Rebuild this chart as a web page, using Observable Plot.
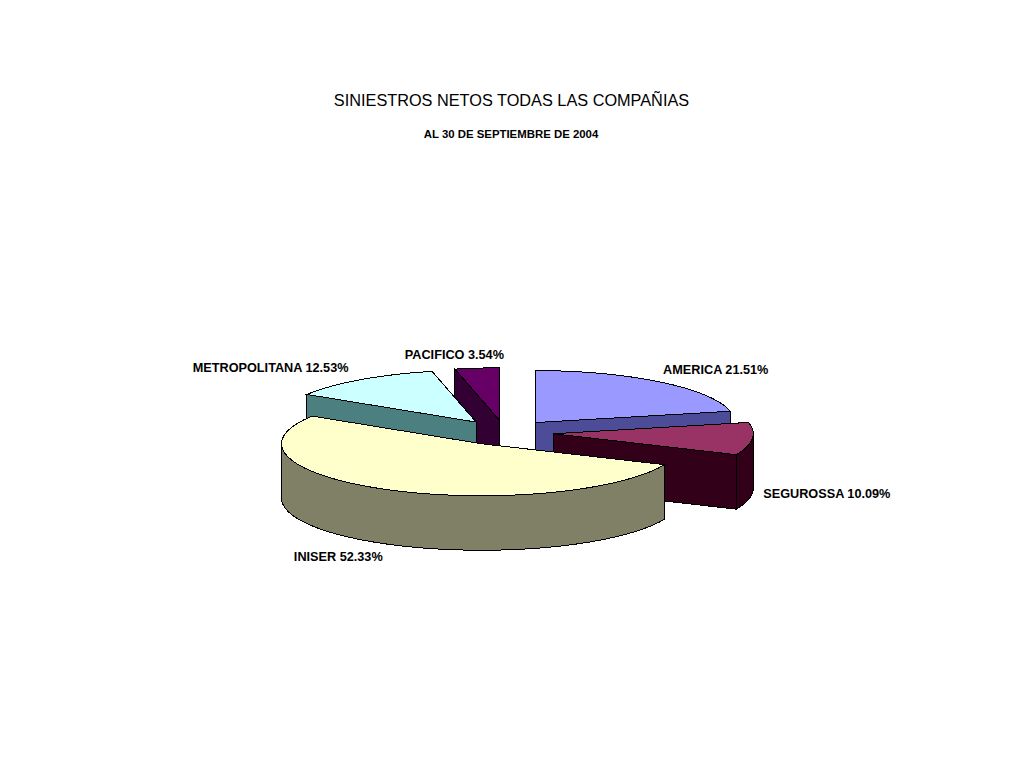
<!DOCTYPE html>
<html>
<head>
<meta charset="utf-8">
<script src="https://cdn.jsdelivr.net/npm/d3@7"></script>
<script src="https://cdn.jsdelivr.net/npm/@observablehq/plot@0.6"></script>
<style>
  html, body { margin: 0; padding: 0; background: #fff; }
  #head { position: relative; height: 150px; width: 1010px; font-family: "Liberation Sans", Arial, sans-serif; color: #000; text-align: center; }
  #head h1 { position: absolute; left: 0; width: 1023px; top: 91px; margin: 0; font-size: 16.3px; line-height: 18px; font-weight: normal; }
  #head h2 { position: absolute; left: 0; width: 1022px; top: 127px; margin: 0; font-size: 11.4px; line-height: 14px; font-weight: bold; }
  #chart svg { display: block; }
</style>
</head>
<body>
<div id="head">
  <h1>SINIESTROS NETOS TODAS LAS COMPAÑIAS</h1>
  <h2>AL 30 DE SEPTIEMBRE DE 2004</h2>
</div>
<div id="chart"></div>
<script>
// Data
const companies = ["AMERICA", "SEGUROSSA", "INISER", "METROPOLITANA", "PACIFICO"];
const shares = [21.51, 10.09, 52.33, 12.53, 3.54];

// Styles, one per company
const topColors = ["#9999ff", "#993366", "#ffffcc", "#ccffff", "#660066"];
const sideColors = [
  ["#333399", "#666699"],
  ["#660033", "#000000"],
  ["#999966", "#666666"],
  ["#669999", "#336666"],
  ["#330033", "#330033"]
];
// Painter's order, back to front
const drawOrder = [0, 4, 3, 1, 2];
// Label nudges from the rim point of each slice, in pixels
const labelNudge = [[55.5, -12], [74.5, 55.5], [-49.5, 67.5], [-90, -12], [-22.5, -13]];

// Pie projection: data are in unit-radius plan coordinates; scales do the tilt
const svgTop = 150;
const center = [504, 432], radiusX = 200, radiusY = 52, depthPx = 54.5, explode = 0.245;
const depth = depthPx / radiusY;

const toRad = (deg) => (deg * Math.PI) / 180;
const rim = (deg, o, dz = 0) => ({x: o[0] + Math.sin(toRad(deg)), y: o[1] - Math.cos(toRad(deg)) + dz});
const arc = (a, b, o, dz = 0) => {
  const n = Math.max(2, Math.ceil(Math.abs(b - a) / 2));
  return d3.range(n + 1).map((i) => rim(a + ((b - a) * i) / n, o, dz));
};
const ring = (pts) => [...pts, pts[0]];

let cumulative = 0;
const slices = shares.map((s, i) => {
  const start = (cumulative / 100) * 360;
  cumulative += s;
  const end = (cumulative / 100) * 360;
  const mid = (start + end) / 2;
  const o = [explode * Math.sin(toRad(mid)), -explode * Math.cos(toRad(mid))];
  return {i, start, end, mid, o};
});

const marks = [];
const polygon = (pts, fill) => marks.push(Plot.line(ring(pts), {x: "x", y: "y", fill, stroke: "#000", strokeWidth: 1, strokeLinejoin: "miter", strokeMiterlimit: 4, shapeRendering: "crispEdges"}));

for (const k of drawOrder) {
  const {i, start, end, o} = slices[k];
  const side = `url(#side${i})`;
  const apex = {x: o[0], y: o[1]};
  const drop = (p) => ({x: p.x, y: p.y + depth});
  const face = (deg) => {
    const r = rim(deg, o);
    polygon([apex, r, drop(r), drop(apex)], side);
  };
  // Cut faces that turn toward the viewer
  if (Math.sin(toRad(start)) < -1e-6) face(start);
  if (Math.sin(toRad(end)) > 1e-6) face(end);
  // Outer wall: only the front half of the rim is visible
  const a = Math.max(start, 90), b = Math.min(end, 270);
  if (b > a) {
    const upper = arc(a, b, o);
    polygon([...upper, ...upper.map(drop).reverse()], side);
  }
  // Top surface
  polygon([apex, ...arc(start, end, o)], topColors[i]);
}

// Labels hang off the rim point of each slice
const labels = slices.map(({i, mid, o}) => ({
  ...rim(mid, o),
  text: `${companies[i]} ${shares[i].toFixed(2)}%`,
  dx: labelNudge[i][0],
  dy: labelNudge[i][1]
}));
for (const l of labels) {
  marks.push(Plot.text([l], {x: "x", y: "y", text: "text", dx: l.dx, dy: l.dy, fontSize: 12.7, fontWeight: "bold", fontFamily: "Liberation Sans, Arial, sans-serif", fill: "#000"}));
}

// Two-pixel checker patterns for the shaded sides
marks.unshift(() => {
  const defs = d3.create("svg:defs");
  sideColors.forEach(([c1, c2], i) => {
    const p = defs.append("pattern").attr("id", `side${i}`).attr("patternUnits", "userSpaceOnUse").attr("width", 2).attr("height", 2);
    p.append("rect").attr("width", 2).attr("height", 2).attr("fill", c1).attr("shape-rendering", "crispEdges");
    p.append("rect").attr("width", 1).attr("height", 1).attr("fill", c2).attr("shape-rendering", "crispEdges");
    p.append("rect").attr("x", 1).attr("y", 1).attr("width", 1).attr("height", 1).attr("fill", c2).attr("shape-rendering", "crispEdges");
  });
  return defs.node();
});

const chartHeight = 781 - svgTop;
const plot = Plot.plot({
  width: 1010,
  height: chartHeight,
  margin: 0,
  style: {background: "#fff", overflow: "visible"},
  x: {axis: null, domain: [-1, 1], range: [center[0] - radiusX, center[0] + radiusX]},
  y: {axis: null, domain: [-1, 1], range: [center[1] - radiusY - svgTop, center[1] + radiusY - svgTop]},
  marks
});
document.getElementById("chart").append(plot);
</script>
</body>
</html>
